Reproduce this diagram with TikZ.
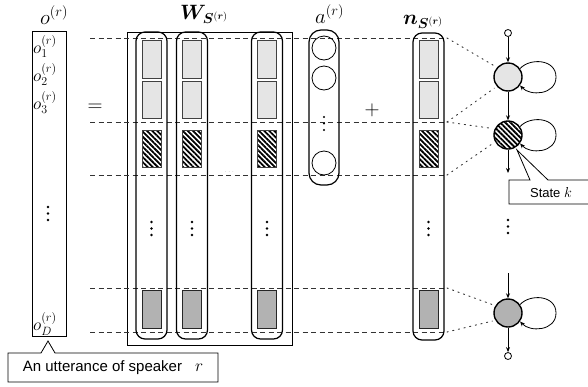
\documentclass[tikz,border=0pt]{standalone}
\usepackage{amsmath,bm}
\usepackage{fontspec}
\setsansfont{Liberation Sans}
\usetikzlibrary{arrows.meta,patterns.meta}
\begin{document}
\begin{tikzpicture}[x=1pt,y=-1pt,
  ml/.style={inner sep=0pt, font=\fontsize{19.5}{19.5}\selectfont},
  oel/.style={inner sep=0pt, font=\fontsize{18}{18}\selectfont, anchor=base west},
  lightbox/.style={draw=black!75, fill=gray!20, line width=0.8pt, minimum width=19pt, inner sep=0pt},
  hatchbox/.style={draw=black!75, pattern={Lines[angle=-45,distance=3.6pt,line width=1.8pt]}, line width=0.8pt, minimum width=19pt, inner sep=0pt},
  darkbox/.style={draw=black!85, fill=gray!60, line width=0.8pt, minimum width=19pt, inner sep=0pt},
  colbox/.style={draw, line width=1.2pt, rounded corners=9pt, minimum width=31pt, inner sep=0pt},
  plainbox/.style={draw, line width=0.8pt, inner sep=0pt},
  dline/.style={draw=black!80, line width=0.7pt, dash pattern=on 5pt off 3.5pt},
  tline/.style={draw=black!80, line width=0.9pt, dash pattern=on 1.3pt off 4.5pt, line cap=round},
  stnode/.style={circle, draw, line width=1.4pt, minimum size=28pt, inner sep=0pt},
  endc/.style={circle, draw, line width=0.8pt, minimum size=7pt, inner sep=0pt},
  arr/.style={-{Stealth[length=5pt,width=4pt]}, line width=0.8pt},
  dotc/.style={circle, fill, inner sep=0pt, minimum size=2.6pt},
  sflabel/.style={font=\sffamily\fontsize{15}{15}\selectfont, inner sep=0pt}
]
\useasboundingbox (0,0) rectangle (588,386);

% left vector
\node[plainbox, minimum width=34pt, minimum height=305pt] (obox) at (49,183.5) {};
\node[ml, anchor=base west] (olab) at (40,24.5) {$o^{(r)}$};
\node[oel] (o1) at (33,53) {$o^{(r)}_1$};
\node[oel] (o2) at (33,81) {$o^{(r)}_2$};
\node[oel] (o3) at (33,109) {$o^{(r)}_3$};
\node[oel] (oD) at (33,330) {$o^{(r)}_D$};
\foreach \yy in {207,213.5,220} \node[dotc] at (48,\yy) {};

\node[ml] (eq) at (95,108) {$=$};
\node[ml] (plus) at (372,110) {$+$};

% W matrix
\node[plainbox, minimum width=165pt, minimum height=313pt] (Wbox) at (209.5,188.5) {};
\node[ml, anchor=base west] (Wlab) at (180,19) {$\bm{W}_{\bm{S}^{(\bm{r})}}$};

% dashed lines
\foreach \k/\yy in {1/38,2/122,3/175,4/288,5/332} {
  \coordinate (dl\k) at (90,\yy);
  \coordinate (dr\k) at (447,\yy);
  \draw[dline] (dl\k) -- (dr\k);
}

\foreach \i/\cx in {1/151.5,2/192,3/267} {
  \node[colbox, minimum height=307pt] (wc\i) at (\cx,185.5) {};
  \node[lightbox, minimum height=38pt] (wa\i) at (\cx,59) {};
  \node[lightbox, minimum height=37pt] (wb\i) at (\cx,99.5) {};
  \node[hatchbox, minimum height=37pt] (wh\i) at (\cx,148.5) {};
  \node[darkbox, minimum height=38pt] (wd\i) at (\cx,309) {};
  \foreach \yy in {222,228.5,235} \node[dotc] at (\cx,\yy) {};
}
\node[inner sep=0pt, font=\fontsize{4}{4}\selectfont, text=black!60] (tdots) at (230,172) {$\cdots$};

% a vector
\node[colbox, minimum width=30pt, minimum height=155pt, rounded corners=12pt] (acol) at (324,107.5) {};
\node[ml, anchor=base west] (alab) at (315,23.5) {$a^{(r)}$};
\foreach \k/\yy in {1/48,2/78,3/163} \node[circle, draw, line width=0.8pt, minimum size=24pt, inner sep=0pt] (ac\k) at (324,\yy) {};
\foreach \yy in {117,123.5,130} \node[dotc, minimum size=2.2pt] at (324,\yy) {};

% n vector
\node[colbox, minimum height=307pt] (ncol) at (428.5,186.5) {};
\node[ml, anchor=base west] (nlab) at (403,24) {$\bm{n}_{\bm{S}^{(\bm{r})}}$};
\node[lightbox, minimum height=38pt] (na) at (428.5,59) {};
\node[lightbox, minimum height=37pt] (nb) at (428.5,99.5) {};
\node[hatchbox, minimum height=37pt] (nh) at (428.5,148.5) {};
\node[darkbox, minimum height=38pt] (nd) at (428.5,309) {};
\foreach \yy in {222,228.5,235} \node[dotc] at (428.5,\yy) {};

% HMM states
\node[stnode, fill=gray!20] (s1) at (508,77) {};
\node[stnode, pattern={Lines[angle=-45,distance=3.6pt,line width=1.8pt]}] (s2) at (508,135) {};
\node[stnode, fill=gray!60] (s3) at (508,313) {};
\node[endc] (st) at (508,33) {};
\node[endc] (en) at (508,356) {};
\coordinate (c2out) at (508,173);
\coordinate (c3in) at (508,273);
\draw[arr] (st) -- (s1);
\draw[arr] (s1) -- (s2);
\draw[arr] (s2) -- (c2out);
\draw[arr] (c3in) -- (s3);
\draw[arr] (s3) -- (en);
\foreach \yy in {220,226.5,233} \node[dotc] at (508,\yy) {};

% self loops
\foreach \s in {s1,s2,s3} {
  \coordinate (\s r) at ([xshift=48pt]\s.center);
  \draw[arr] (\s.35) .. controls +(10,-11) and +(0,-18) .. (\s r)
     .. controls +(0,18) and +(10,11) .. (\s.-35);
}

% dotted projections
\draw[tline, shorten >=3pt] (dr1) -- (s1.139);
\draw[tline, shorten >=3pt] (dr2) -- (s1.220);
\draw[tline, shorten >=3pt] (dr2) -- (s2.155);
\draw[tline, shorten >=3pt] (dr3) -- (s2.208);
\draw[tline, shorten >=3pt] (dr4) -- (s3.150);
\draw[tline, shorten >=3pt] (dr5) -- (s3.210);

% callout State k
\coordinate (sktip) at (517,150);
\draw[line width=0.8pt, fill=white] (509,180) -- (530,180) -- (sktip) -- (548,180) -- (596,180) -- (596,204) -- (509,204) -- cycle;
\node[sflabel, font=\sffamily\fontsize{13}{13}\selectfont] (sk) at (551,193) {State \fontsize{15}{15}\selectfont$k$};

% callout utterance
\coordinate (utip) at (48,341);
\draw[line width=0.8pt, fill=white] (8,353) -- (41,353) -- (utip) -- (55,353) -- (218,353) -- (218,382) -- (8,382) -- cycle;
\node[sflabel] (utt) at (113,368) {An utterance of speaker\hspace{13pt}\fontsize{19}{19}\selectfont$r$};
\end{tikzpicture}
\end{document}
